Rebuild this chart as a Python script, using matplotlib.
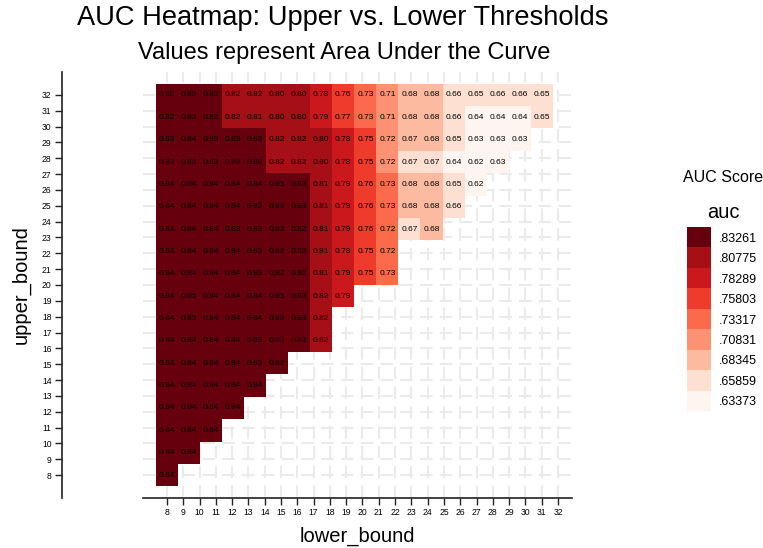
import matplotlib
matplotlib.use("Agg")
import matplotlib.pyplot as plt
import numpy as np
from matplotlib.colors import ListedColormap, BoundaryNorm

plt.rcParams["font.family"] = ["Liberation Sans", "DejaVu Sans"]

# threshold grid (cell centres)
lower_bound = [8.00, 9.35, 10.71, 12.06, 13.41, 14.76, 16.12, 17.47, 18.82,
               20.18, 21.53, 22.88, 24.24, 25.59, 26.94, 28.29, 29.65, 31.00]
upper_bound = [8.00, 9.41, 10.82, 12.24, 13.65, 15.06, 16.47, 17.88, 19.29,
               20.71, 22.12, 23.53, 24.94, 26.35, 27.76, 29.18, 30.59, 32.00]

# AUC per upper_bound row (bottom to top), one value per lower_bound column
auc_rows = [
    [0.84],
    [0.84, 0.84],
    [0.84, 0.84, 0.84],
    [0.84, 0.84, 0.84, 0.84],
    [0.84, 0.84, 0.84, 0.84, 0.84],
    [0.84, 0.84, 0.84, 0.84, 0.83, 0.822],
    [0.84, 0.84, 0.84, 0.84, 0.83, 0.83, 0.83, 0.818],
    [0.84, 0.85, 0.84, 0.84, 0.84, 0.83, 0.83, 0.818],
    [0.84, 0.85, 0.84, 0.84, 0.84, 0.83, 0.83, 0.818, 0.79],
    [0.84, 0.84, 0.84, 0.84, 0.83, 0.822, 0.822, 0.81, 0.79, 0.75, 0.73],
    [0.84, 0.84, 0.84, 0.84, 0.83, 0.822, 0.822, 0.81, 0.78, 0.75, 0.722],
    [0.84, 0.84, 0.84, 0.83, 0.83, 0.822, 0.822, 0.81, 0.79, 0.76, 0.722, 0.669, 0.68],
    [0.84, 0.84, 0.84, 0.84, 0.83, 0.822, 0.83, 0.81, 0.79, 0.76, 0.73, 0.68, 0.68, 0.66],
    [0.84, 0.84, 0.84, 0.84, 0.84, 0.83, 0.83, 0.81, 0.79, 0.76, 0.73, 0.68, 0.68, 0.65, 0.62],
    [0.83, 0.83, 0.83, 0.83, 0.83, 0.818, 0.818, 0.80, 0.78, 0.75, 0.718, 0.669, 0.669, 0.644,
     0.62, 0.63],
    [0.83, 0.84, 0.83, 0.83, 0.83, 0.818, 0.818, 0.80, 0.78, 0.75, 0.718, 0.672, 0.68, 0.65,
     0.63, 0.63, 0.63],
    [0.822, 0.83, 0.822, 0.818, 0.81, 0.80, 0.80, 0.79, 0.77, 0.73, 0.71, 0.68, 0.68, 0.66,
     0.644, 0.644, 0.644, 0.65],
    [0.822, 0.83, 0.822, 0.818, 0.818, 0.80, 0.80, 0.78, 0.76, 0.73, 0.71, 0.68, 0.68, 0.66,
     0.65, 0.66, 0.66, 0.65],
]

# quantized colour scale
auc_domain = (0.62130, 0.84504)
reds = ["#fff5f0", "#fee0d2", "#fcbba1", "#fc9272", "#fb6a4a",
        "#ef3b2c", "#cb181d", "#a50f15", "#67000d"]
legend_labels = [".63373", ".65859", ".68345", ".70831", ".73317",
                 ".75803", ".78289", ".80775", ".83261"]

W, H = 763, 548
fig = plt.figure(figsize=(W / 100, H / 100), dpi=100)

ax = fig.add_axes([143 / W, 1 - 498 / H, (572 - 143) / W, (498 - 72) / H])
ax.set_xlim(6.53, 32.86)
ax.set_ylim(6.55, 33.45)

x = np.array(lower_bound)
y = np.array(upper_bound)
Z = np.full((len(y), len(x)), np.nan)
for i, row in enumerate(auc_rows):
    Z[i, :len(row)] = row


def edges(c):
    mid = (c[:-1] + c[1:]) / 2
    return np.concatenate([[c[0] - (mid[0] - c[0])], mid, [c[-1] + (c[-1] - mid[-1])]])


cmap = ListedColormap(reds)
norm = BoundaryNorm(np.linspace(*auc_domain, 10), cmap.N, clip=True)
ax.pcolormesh(edges(x), edges(y), np.ma.masked_invalid(Z), cmap=cmap, norm=norm,
              shading="flat", zorder=1)

for i, row in enumerate(auc_rows):
    for j, v in enumerate(row):
        ax.text(x[j], y[i], f"{v:.2f}", ha="center", va="center", fontsize=6,
                color="black", zorder=3)

# axes styling
ticks = list(range(8, 33))
ax.set_xticks(ticks)
ax.set_yticks(ticks)
ax.set_axisbelow(True)
ax.grid(True, color="#ebebeb", lw=1.5, ls=(0, (6, 3.5)))
for s in ("top", "right"):
    ax.spines[s].set_visible(False)
ax.spines["left"].set_position(("outward", 58.3))
for s in ("left", "bottom"):
    ax.spines[s].set_color("#222222")
    ax.spines[s].set_linewidth(1.2)
ax.tick_params(direction="out", length=5, width=1, color="#222222",
               labelsize=6.2, pad=2.5)

fig.text(357 / W, 1 - 536 / H, "lower_bound", ha="center", va="center", fontsize=14.5)
fig.text(21 / W, 1 - 285 / H, "upper_bound", ha="center", va="center",
         fontsize=14.5, rotation=90)

fig.text(343 / W, 1 - 18 / H, "AUC Heatmap: Upper vs. Lower Thresholds",
         ha="center", va="center", fontsize=19.6)
fig.text(344 / W, 1 - 53 / H, "Values represent Area Under the Curve",
         ha="center", va="center", fontsize=17)

# legend
fig.text(723 / W, 1 - 177 / H, "AUC Score", ha="center", va="center", fontsize=11.5)
fig.text(723 / W, 1 - 212 / H, "auc", ha="center", va="center", fontsize=14.5)
lax = fig.add_axes([687 / W, 1 - 411 / H, 24 / W, 184 / H])
lax.barh(np.arange(len(reds)), 1, height=1, color=reds)
lax.set_xlim(0, 1)
lax.set_ylim(-0.5, len(reds) - 0.5)
lax.set_xticks([])
lax.set_yticks(np.arange(len(reds)))
lax.set_yticklabels(legend_labels)
lax.yaxis.tick_right()
lax.tick_params(axis="y", length=0, pad=5.8, labelsize=9)
for s in lax.spines.values():
    s.set_visible(False)

fig.savefig("out.png", dpi=100)
